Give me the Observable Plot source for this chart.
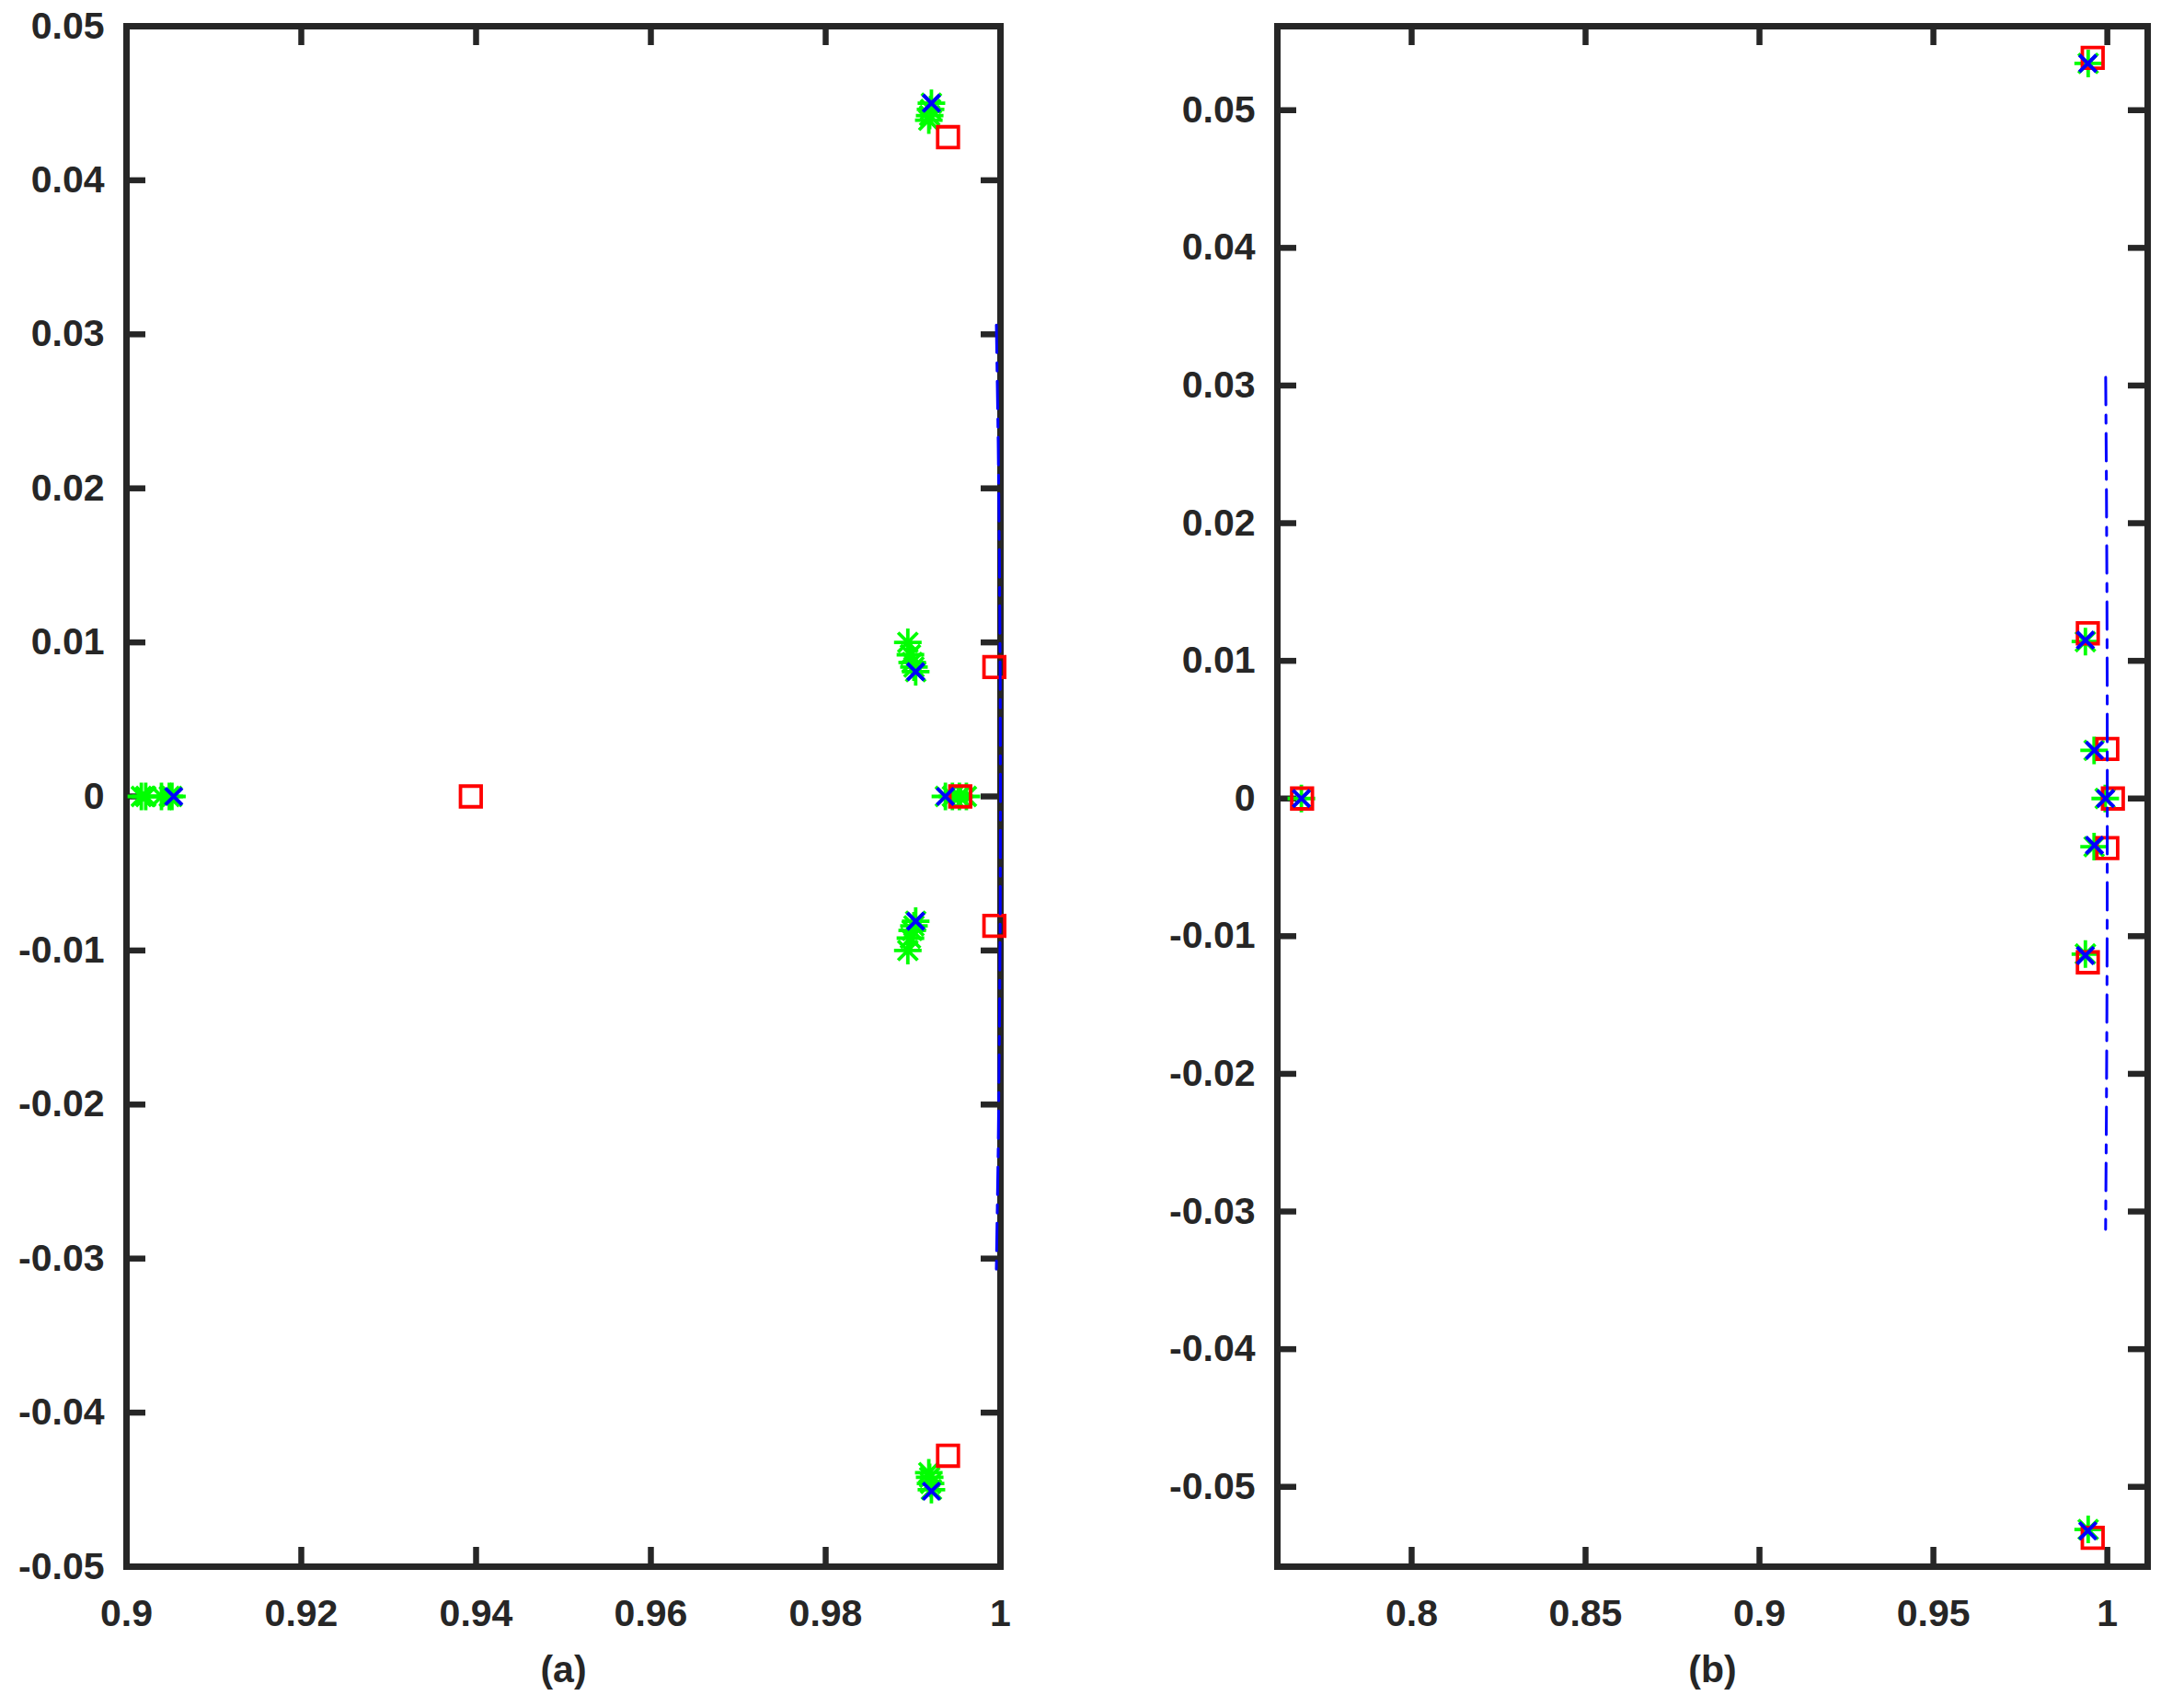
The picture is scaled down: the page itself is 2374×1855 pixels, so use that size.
<!DOCTYPE html>
<html><head><meta charset="utf-8">
<script src="https://cdn.jsdelivr.net/npm/d3@7"></script>
<script src="https://cdn.jsdelivr.net/npm/@observablehq/plot@0.6"></script>
<style>
html,body{margin:0;padding:0;background:#fff;}
#wrap{display:flex;width:2374px;height:1855px;overflow:hidden;}
#wrap svg{display:block;overflow:visible;}
</style></head><body><div id="wrap"></div>
<script>
// ---------- Panel (a) ----------
const aXTicks = [0.9, 0.92, 0.94, 0.96, 0.98, 1];
const aXLabels = ["0.9", "0.92", "0.94", "0.96", "0.98", "1"];
const aYTicks = [0.05, 0.04, 0.03, 0.02, 0.01, 0, -0.01, -0.02, -0.03, -0.04, -0.05];
const aYLabels = ["0.05", "0.04", "0.03", "0.02", "0.01", "0", "-0.01", "-0.02", "-0.03", "-0.04", "-0.05"];
const aGreenX = [0.9017, 0.9022, 0.9040, 0.9049, 0.9052,
                 0.9894, 0.9897, 0.9899, 0.9901, 0.9903,
                 0.9894, 0.9897, 0.9899, 0.9901, 0.9903,
                 0.9937, 0.9945, 0.9953, 0.9961,
                 0.9921, 0.9920, 0.9919, 0.9918,
                 0.9921, 0.9920, 0.9919, 0.9918];
const aGreenY = [0, 0, 0, 0, 0,
                 0.0100, 0.0092, 0.0087, 0.0084, 0.0081,
                 -0.0100, -0.0092, -0.0087, -0.0084, -0.0081,
                 0, 0, 0, 0,
                 0.0450, 0.0446, 0.0442, 0.0439,
                 -0.0450, -0.0446, -0.0442, -0.0439];
const aRedX = [0.9394, 0.9940, 0.9940, 0.9993, 0.9993, 0.9954];
const aRedY = [0, 0.0428, -0.0428, 0.0084, -0.0084, 0];
const aBlueX = [0.9054, 0.9903, 0.9903, 0.9921, 0.9921, 0.9937];
const aBlueY = [0, 0.0081, -0.0081, 0.0450, -0.0451, 0];

// ---------- Panel (b) ----------
const bXTicks = [0.8, 0.85, 0.9, 0.95, 1];
const bXLabels = ["0.8", "0.85", "0.9", "0.95", "1"];
const bYTicks = [0.05, 0.04, 0.03, 0.02, 0.01, 0, -0.01, -0.02, -0.03, -0.04, -0.05];
const bYLabels = ["0.05", "0.04", "0.03", "0.02", "0.01", "0", "-0.01", "-0.02", "-0.03", "-0.04", "-0.05"];
const bGreenX = [0.7683, 0.9945, 0.9945, 0.9937, 0.9937, 0.9962, 0.9962, 0.9994];
const bGreenY = [0, 0.0534, -0.0531, 0.0114, -0.0113, 0.0035, -0.0035, 0];
const bRedX = [0.7685, 0.9958, 0.9958, 0.9944, 0.9944, 1.0000, 1.0000, 1.0016];
const bRedY = [0, 0.0538, -0.0537, 0.0120, -0.0119, 0.0036, -0.0036, 0];
const bBlueX = [0.7683, 0.9944, 0.9944, 0.9937, 0.9937, 0.9963, 0.9963, 0.9995];
const bBlueY = [0, 0.0534, -0.0532, 0.0115, -0.0114, 0.0035, -0.0034, 0];

// ---------- Unit-circle reference arc (dash-dot, both panels) ----------
const arcX = [0.99953, 0.99974, 0.99988, 0.99997, 1.0, 0.99997, 0.99988, 0.99974, 0.99951];
const arcY = [0.0306, 0.0230, 0.0155, 0.0077, 0, -0.0077, -0.0155, -0.0230, -0.0313];

const zip = (xs, ys) => xs.map((x, i) => ({x, y: ys[i]}));

const INK = "#262626";
const FONT = "'Liberation Sans', Arial, Helvetica, sans-serif";
const FS = 41;
const H = 1855, MT = 28, MB = 153;
const FRAME_H = H - MT - MB;
const TICK = 21;

function panel(o) {
  const green = zip(o.greenX, o.greenY);
  const red = zip(o.redX, o.redY);
  const blue = zip(o.blueX, o.blueY);
  const arc = zip(arcX, arcY);
  return Plot.plot({
    width: o.width, height: H,
    marginLeft: o.ml, marginRight: o.mr, marginTop: MT, marginBottom: MB,
    x: {domain: o.xDomain},
    y: {domain: o.yDomain},
    style: {fontFamily: FONT, fontSize: FS + "px", fontWeight: "bold", color: INK, background: "#fff", overflow: "visible"},
    marks: [
      Plot.frame({stroke: INK, strokeWidth: 7}),
      Plot.tickX(o.xTicks, {x: d => d, stroke: INK, strokeWidth: 6.5, insetTop: FRAME_H - TICK}),
      Plot.tickX(o.xTicks, {x: d => d, stroke: INK, strokeWidth: 6.5, insetBottom: FRAME_H - TICK}),
      Plot.tickY(o.yTicks, {y: d => d, stroke: INK, strokeWidth: 6.5, insetRight: (o.width - o.ml - o.mr) - TICK}),
      Plot.tickY(o.yTicks, {y: d => d, stroke: INK, strokeWidth: 6.5, insetLeft: (o.width - o.ml - o.mr) - TICK}),
      Plot.axisX(o.xTicks, {tickSize: 0, tickPadding: 35, fontSize: FS, fontWeight: "bold", fill: INK,
        tickFormat: d => o.xLabels[o.xTicks.indexOf(d)], label: null}),
      Plot.axisY(o.yTicks, {tickSize: 0, tickPadding: 24, fontSize: FS, fontWeight: "bold", fill: INK,
        tickFormat: d => o.yLabels[o.yTicks.indexOf(d)], label: null}),
      Plot.text([o.caption], {text: d => d, frameAnchor: "bottom", dy: 112, lineAnchor: "middle",
        fontSize: FS, fontWeight: "bold", fill: INK}),
      Plot.dot(green, {x: "x", y: "y", symbol: "plus", r: 9.7, stroke: "#00ff00", strokeWidth: 3.8}),
      Plot.dot(green, {x: "x", y: "y", symbol: "times", r: 9.7, stroke: "#00ff00", strokeWidth: 3.8}),
      Plot.dot(red, {x: "x", y: "y", symbol: "square", r: 12.7, stroke: "#ff0000", fill: "none", strokeWidth: 3.8}),
      Plot.dot(blue, {x: "x", y: "y", symbol: "times", r: 8.4, stroke: "#0000ff", strokeWidth: 4}),
      Plot.line(arc, {x: "x", y: "y", stroke: "#0000ff", strokeWidth: 3, strokeDasharray: "30,11,9,11", curve: "linear"})
    ]
  });
}

const wrap = document.getElementById("wrap");
wrap.append(panel({
  width: 1200, ml: 137, mr: 113,
  xDomain: [0.9, 1], yDomain: [-0.05, 0.05],
  xTicks: aXTicks, xLabels: aXLabels, yTicks: aYTicks, yLabels: aYLabels,
  greenX: aGreenX, greenY: aGreenY, redX: aRedX, redY: aRedY, blueX: aBlueX, blueY: aBlueY,
  caption: "(a)"
}));
wrap.append(panel({
  width: 1174, ml: 188, mr: 40,
  xDomain: [0.7614, 1.0116], yDomain: [-0.0558, 0.0561],
  xTicks: bXTicks, xLabels: bXLabels, yTicks: bYTicks, yLabels: bYLabels,
  greenX: bGreenX, greenY: bGreenY, redX: bRedX, redY: bRedY, blueX: bBlueX, blueY: bBlueY,
  caption: "(b)"
}));
</script></body></html>
